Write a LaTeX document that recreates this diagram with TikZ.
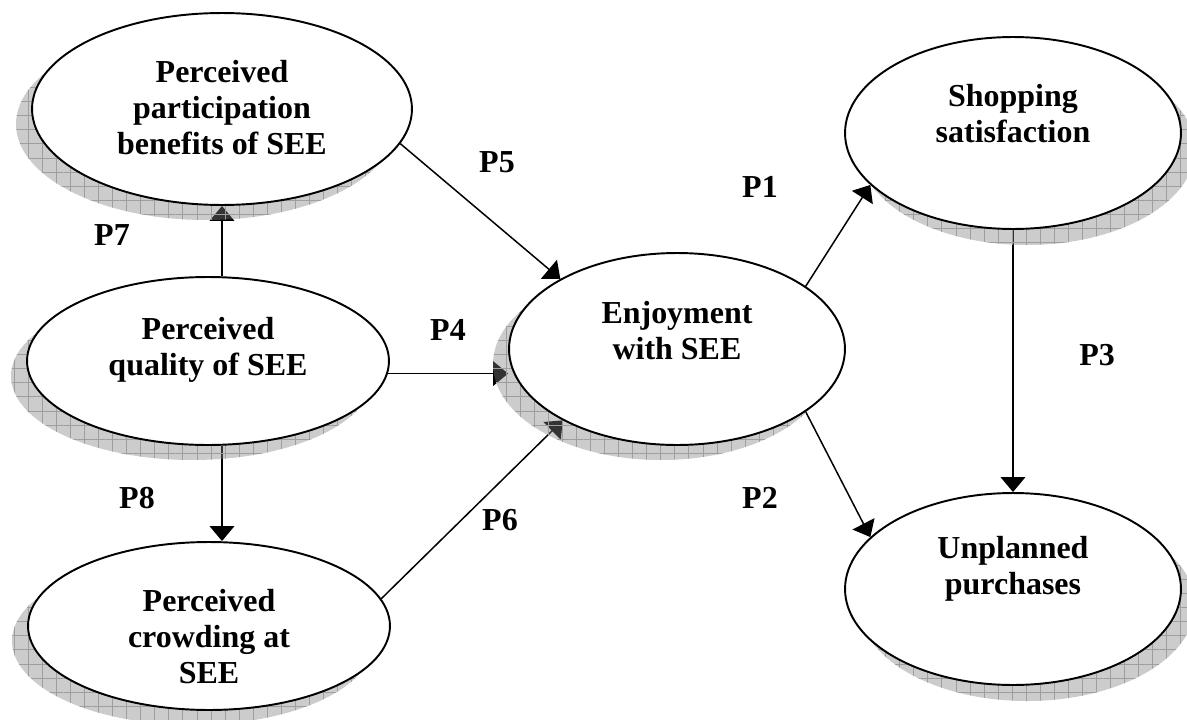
\documentclass[tikz,border=0pt]{standalone}
\usepackage{fontspec}
\setmainfont{Liberation Serif}
\usetikzlibrary{shapes.geometric,arrows.meta,patterns.meta}
\pgfdeclarelayer{back}
\pgfdeclarelayer{shadelayer}
\pgfsetlayers{back,shadelayer,main}
\begin{document}
\begin{tikzpicture}[x=0.02cm,y=-0.02cm,
    construct/.style={ellipse,draw,fill=white,line width=1.1pt,inner sep=0pt},
    ellbig/.style={construct,minimum width=7.6cm,minimum height=3.84cm},
    ellflat/.style={construct,minimum width=7.24cm,minimum height=3.36cm},
    ellmid/.style={construct,minimum width=6.72cm,minimum height=3.84cm},
    conlabel/.style={align=center,font=\fontsize{18.2}{20.5}\selectfont\bfseries},
    plabel/.style={font=\fontsize{18.2}{20.5}\selectfont\bfseries},
    link/.style={line width=0.85pt,-{Triangle[length=8.5pt,width=14pt]}},
    castshadow/.style={preaction={fill=black!50,fill opacity=0.4},
        pattern={Hatch[angle=0,distance=8pt,line width=0.3pt]},pattern color=black!38}]
    \useasboundingbox (0,0) rectangle (1187,720);
    % constructs
    \node[ellbig] (part) at (222,109) {};
    \node[ellflat] (quality) at (208,361) {};
    \node[ellflat] (crowd) at (209,626) {};
    \node[ellmid] (enjoy) at (677,349) {};
    \node[ellmid] (shop) at (1013,133) {};
    \node[ellmid] (unpl) at (1013,589) {};
    \node[conlabel] (part-t) at (222,108) {Perceived\\participation\\benefits of SEE};
    \node[conlabel] (quality-t) at (208,350) {Perceived\\quality of SEE};
    \node[conlabel] (crowd-t) at (209,637) {Perceived\\crowding at\\SEE};
    \node[conlabel] (enjoy-t) at (677,331) {Enjoyment\\with SEE};
    \node[conlabel] (shop-t) at (1013,114) {Shopping\\satisfaction};
    \node[conlabel] (unpl-t) at (1013,569) {Unplanned\\purchases};
    % shadows
    \begin{pgfonlayer}{shadelayer}
    \foreach \n/\dx/\dy/\rx/\ry in {part/-16/15/190/96, quality/-16/15/181/84, crowd/-16/15/181/84,
        enjoy/-16/15/168/96, shop/14/16/168/96, unpl/14/16/168/96}
        \path[castshadow] ([shift={(\dx,\dy)}]\n.center) ellipse [x radius=\rx, y radius=\ry];
    \end{pgfonlayer}
    % paths
    \begin{pgfonlayer}{back}
    \draw[link] (part.-11) -- (enjoy.149);
    \draw[link] (quality.-4) -- (quality.-4 -| enjoy.west);
    \draw[link] (crowd.9) -- (enjoy.212);
    \draw[link] (quality.north -| part.south) -- (part.south);
    \draw[link] (quality.south -| part.south) -- (crowd.north -| part.south);
    \draw[link] (enjoy.26) -- (shop.200);
    \draw[link] (enjoy.-26) -- (unpl.160);
    \draw[link] (shop.south) -- (unpl.north);
    \end{pgfonlayer}
    % labels
    \node[plabel] (p1) at (760,187) {P1};
    \node[plabel] (p2) at (760,498) {P2};
    \node[plabel] (p3) at (1097,355) {P3};
    \node[plabel] (p4) at (448,330) {P4};
    \node[plabel] (p5) at (497,162) {P5};
    \node[plabel] (p6) at (500,520) {P6};
    \node[plabel] (p7) at (112,235) {P7};
    \node[plabel] (p8) at (137,498) {P8};
\end{tikzpicture}
\end{document}
